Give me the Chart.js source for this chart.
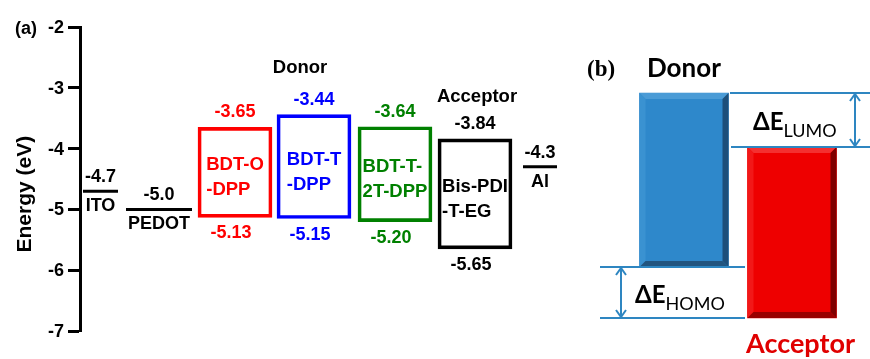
<!DOCTYPE html>
<html>
<head>
<meta charset="utf-8">
<script src="https://cdn.jsdelivr.net/npm/chart.js@4.4.1/dist/chart.umd.min.js"></script>
<style>
  html, body { margin: 0; padding: 0; background: #fff; }
  #wrap { position: relative; width: 870px; height: 359px; overflow: hidden; background: #fff; }
  #levels { position: absolute; left: 0; top: 0; }
  #scheme { position: absolute; left: 580px; top: 0; }
</style>
</head>
<body>
<div id="wrap">
  <canvas id="levels" width="580" height="359"></canvas>
  <canvas id="scheme" width="290" height="359"></canvas>
</div>
<script>
// ---- (a) energy levels, eV ----
const electrodes = ['ITO', 'PEDOT', 'Al'];
const workFunctions = [-4.7, -5.0, -4.3];

const materials = ['BDT-O-DPP', 'BDT-T-DPP', 'BDT-T-2T-DPP', 'Bis-PDI-T-EG'];
const materialLines = [['BDT-O', '-DPP'], ['BDT-T', '-DPP'], ['BDT-T-', '2T-DPP'], ['Bis-PDI', '-T-EG']];
const lumo = [-3.65, -3.44, -3.64, -3.84];
const homo = [-5.13, -5.15, -5.20, -5.65];

const energyTicks = [-2, -3, -4, -5, -6, -7];

// ---- (b) donor / acceptor offsets (schematic) ----
const schemeParts = ['Donor', 'Acceptor'];
const schemeLumo = [-3.1, -4.0];
const schemeHomo = [-6.0, -6.85];

// ---- layout & style ----
// slots on the hidden x axis of panel (a): 1 unit = 10 px of plot width
const electrodeSlots = [[0.3, 3.8], [4.6, 11.2], [44.3, 47.7]];
const boxCenters = [15.5, 23.4, 31.5, 39.5];
const materialColors = ['#ff0000', '#0000ff', '#008000', '#000000'];
const headings = [
  { text: 'Donor', x: 22.0, y: -2.75 },
  { text: 'Acceptor', x: 39.7, y: -3.24 }
];
const SANS = '"Liberation Sans", Arial, sans-serif';
const boldSans = (s) => `bold ${s}px ${SANS}`;
const TICK_LEN = 12, TICK_PAD = 4;

// labels around the levels of panel (a), plus the energy tick labels
const levelText = {
  id: 'levelText',
  afterDraw(chart) {
    const { ctx, scales: { x, y } } = chart;
    ctx.save();
    ctx.fillStyle = '#000';

    // tick labels of the energy axis
    ctx.font = boldSans(18);
    ctx.textAlign = 'right';
    ctx.textBaseline = 'middle';
    y.ticks.forEach(t => ctx.fillText(String(t.value), y.right - TICK_LEN - TICK_PAD, y.getPixelForValue(t.value) + 1));

    ctx.textAlign = 'center';
    ctx.textBaseline = 'alphabetic';

    // electrode work functions
    electrodes.forEach((name, i) => {
      const [a, b] = electrodeSlots[i];
      const cx = x.getPixelForValue((a + b) / 2);
      const py = y.getPixelForValue(workFunctions[i]);
      ctx.fillText(workFunctions[i].toFixed(1), cx, py - 9);
      ctx.fillText(name, cx, py + 20);
    });

    // HOMO / LUMO boxes
    materials.forEach((m, i) => {
      const cx = x.getPixelForValue(boxCenters[i]);
      const top = y.getPixelForValue(lumo[i]);
      const bot = y.getPixelForValue(homo[i]);
      ctx.fillStyle = materialColors[i];
      ctx.font = boldSans(18);
      ctx.textAlign = 'center';
      ctx.fillText(lumo[i].toFixed(2), cx, top - 10);
      ctx.fillText(homo[i].toFixed(2), cx - 4, bot + 21);

      // name, left-aligned lines, block centred in the box
      ctx.font = boldSans(18.5);
      const lines = materialLines[i];
      const wMax = Math.max(...lines.map(t => ctx.measureText(t).width));
      const left = cx - wMax / 2;
      const mid = (top + bot) / 2 + 4;
      ctx.textAlign = 'left';
      ctx.fillText(lines[0], left, mid - 6);
      ctx.fillText(lines[1], left, mid + 19);
    });

    // group headings
    ctx.fillStyle = '#000';
    ctx.textAlign = 'center';
    ctx.font = boldSans(18.5);
    headings.forEach(h => ctx.fillText(h.text, x.getPixelForValue(h.x), y.getPixelForValue(h.y)));

    // panel letter and axis title
    ctx.textAlign = 'left';
    ctx.font = boldSans(18);
    ctx.fillText('(a)', 15, y.getPixelForValue(-2) + 7);

    ctx.save();
    ctx.translate(31, y.getPixelForValue(-4.75));
    ctx.rotate(-Math.PI / 2);
    ctx.textAlign = 'center';
    ctx.font = boldSans(21);
    ctx.fillText('Energy (eV)', 0, 0);
    ctx.restore();

    ctx.restore();
  }
};

new Chart(document.getElementById('levels'), {
  type: 'bar',
  data: {
    datasets: [
      ...electrodes.map((name, i) => ({
        type: 'line',
        label: name,
        data: [
          { x: electrodeSlots[i][0], y: workFunctions[i] },
          { x: electrodeSlots[i][1], y: workFunctions[i] }
        ],
        borderColor: '#000',
        borderWidth: 3,
        borderCapStyle: 'butt',
        pointRadius: 0,
        fill: false
      })),
      {
        type: 'bar',
        label: 'HOMO-LUMO',
        data: materials.map((m, i) => ({ x: boxCenters[i], y: [lumo[i], homo[i]] })),
        backgroundColor: 'rgba(0,0,0,0)',
        borderColor: materialColors,
        borderWidth: 3,
        borderSkipped: false,
        barThickness: 74
      }
    ]
  },
  options: {
    responsive: false,
    animation: false,
    events: [],
    layout: { padding: { top: 27, bottom: 28, left: 0, right: 0 } },
    plugins: { legend: { display: false }, tooltip: { enabled: false } },
    scales: {
      x: { type: 'linear', min: 0, max: 50, offset: false, display: false },
      y: {
        type: 'linear',
        min: -7,
        max: -2,
        position: 'left',
        afterFit(s) { s.width = 80; },
        afterBuildTicks(s) { s.ticks = energyTicks.map(v => ({ value: v })); },
        ticks: { display: false },
        grid: { drawOnChartArea: false, drawTicks: true, tickLength: TICK_LEN, tickWidth: 3, tickColor: '#000' },
        border: { color: '#000', width: 3 }
      }
    }
  },
  plugins: [levelText]
});

// ---- panel (b) ----
const LATO = 'Lato, "Open Sans", sans-serif';
const GAP_BLUE = '#2e86c1';
const schemeFill = ['#2e88cb', '#ee0000'];
const schemeShade = [
  { top: '#4a9bd6', left: '#3a92d1', right: '#1d4f7a', bottom: '#22557f' },
  { top: '#f43030', left: '#f21818', right: '#7e0000', bottom: '#9a0000' }
];

function quad(ctx, pts, color) {
  ctx.beginPath();
  ctx.moveTo(pts[0][0], pts[0][1]);
  for (let k = 1; k < pts.length; k++) ctx.lineTo(pts[k][0], pts[k][1]);
  ctx.closePath();
  ctx.fillStyle = color;
  ctx.fill();
}

const bevel = {
  id: 'bevel',
  afterDatasetsDraw(chart) {
    const ctx = chart.ctx;
    const meta = chart.getDatasetMeta(0);
    ctx.save();
    meta.data.forEach((bar, i) => {
      const { x, y, base, width } = bar.getProps(['x', 'y', 'base', 'width'], true);
      const l = x - width / 2, r = x + width / 2;
      const t = Math.min(y, base), b = Math.max(y, base);
      const d = 6, sh = schemeShade[i];
      quad(ctx, [[l, t], [r, t], [r - d, t + d], [l + d, t + d]], sh.top);
      quad(ctx, [[l, t], [l + d, t + d], [l + d, b - d], [l, b]], sh.left);
      quad(ctx, [[r, t], [r, b], [r - d, b - d], [r - d, t + d]], sh.right);
      quad(ctx, [[l, b], [r, b], [r - d, b - d], [l + d, b - d]], sh.bottom);
    });
    ctx.restore();
  }
};

function hLine(ctx, x1, x2, y) {
  ctx.beginPath(); ctx.moveTo(x1, y); ctx.lineTo(x2, y); ctx.stroke();
}
function dblArrow(ctx, x, y1, y2) {
  const h = 8, w = 5;
  ctx.beginPath();
  ctx.moveTo(x, y1 + 1); ctx.lineTo(x, y2 - 1);
  ctx.moveTo(x - w, y1 + h); ctx.lineTo(x, y1 + 1); ctx.lineTo(x + w, y1 + h);
  ctx.moveTo(x - w, y2 - h); ctx.lineTo(x, y2 - 1); ctx.lineTo(x + w, y2 - h);
  ctx.stroke();
}
function deltaLabel(ctx, sub, x, baseline) {
  ctx.textAlign = 'left';
  ctx.fillStyle = '#000';
  ctx.font = `bold 24px ${LATO}`;
  ctx.fillText('\u0394E', x, baseline);
  const w = ctx.measureText('\u0394E').width;
  ctx.font = `18px ${LATO}`;
  ctx.fillText(sub, x + w, baseline + 7);
}

const offsets = {
  id: 'offsets',
  afterDraw(chart) {
    const { ctx, scales: { y } } = chart;
    const W = chart.width;
    const dL = y.getPixelForValue(schemeLumo[0]);
    const aL = y.getPixelForValue(schemeLumo[1]);
    const dH = y.getPixelForValue(schemeHomo[0]);
    const aH = y.getPixelForValue(schemeHomo[1]);
    ctx.save();
    ctx.strokeStyle = GAP_BLUE;
    ctx.lineWidth = 2;
    hLine(ctx, 150, W, dL);
    hLine(ctx, 151, W, aL);
    hLine(ctx, 20, 165, dH);
    hLine(ctx, 20, 165, aH);
    dblArrow(ctx, 275, dL, aL);
    dblArrow(ctx, 41, dH, aH);

    deltaLabel(ctx, 'LUMO', 173, (dL + aL) / 2 + 10);
    deltaLabel(ctx, 'HOMO', 55, (dH + aH) / 2 + 10);

    ctx.textAlign = 'left';
    ctx.fillStyle = '#000';
    ctx.font = 'bold 23px "Liberation Serif", "Times New Roman", serif';
    ctx.fillText('(b)', 7, 76);
    ctx.font = `bold 26px ${LATO}`;
    ctx.fillText(schemeParts[0], 67, 77);
    ctx.fillStyle = '#e00000';
    ctx.font = `bold 27px ${LATO}`;
    ctx.fillText(schemeParts[1], 166, 353);
    ctx.restore();
  }
};

new Chart(document.getElementById('scheme'), {
  type: 'bar',
  data: {
    labels: schemeParts,
    datasets: [{
      label: 'frontier orbitals',
      data: schemeParts.map((p, i) => [schemeLumo[i], schemeHomo[i]]),
      backgroundColor: schemeFill,
      borderWidth: 0,
      barThickness: 89
    }]
  },
  options: {
    responsive: false,
    animation: false,
    events: [],
    layout: { padding: { left: 50, right: 24, top: 0, bottom: 0 } },
    plugins: { legend: { display: false }, tooltip: { enabled: false } },
    scales: {
      x: { display: false },
      y: { display: false, min: -7.533, max: -1.55 }
    }
  },
  plugins: [bevel, offsets]
});
</script>
</body>
</html>
